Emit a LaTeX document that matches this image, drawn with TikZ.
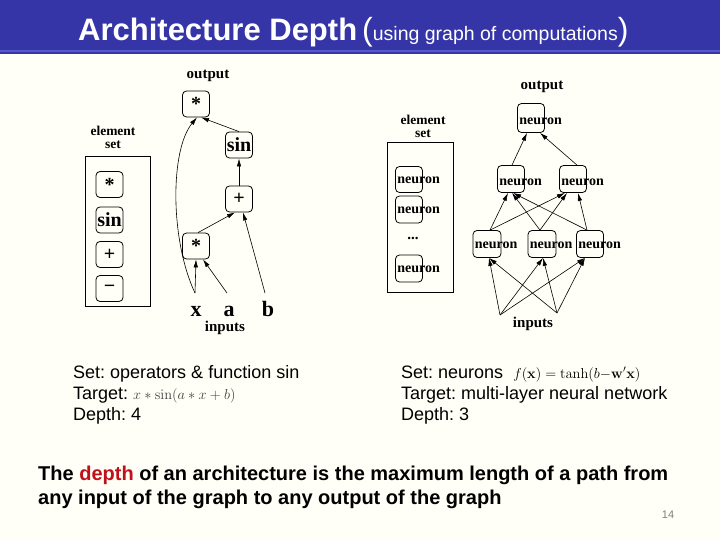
\documentclass[tikz,border=0pt]{standalone}
\usepackage[no-math]{fontspec}
\setmainfont{Liberation Sans}
\newfontfamily\dg{Liberation Serif}
\usetikzlibrary{arrows.meta}
\definecolor{titlebg}{HTML}{3535A8}
\definecolor{titleln}{HTML}{5858C8}
\definecolor{pagebg}{HTML}{FFFFF7}
\definecolor{depthred}{HTML}{C0101A}
\frenchspacing
\begin{document}
\begin{tikzpicture}[x=1pt,y=-1pt,
  gbox/.style={draw, rounded corners=4pt, minimum width=27pt, minimum height=26pt, inner sep=0pt, line width=0.8pt},
  nbox/.style={draw, rounded corners=4pt, minimum width=27pt, minimum height=27pt, inner sep=0pt, line width=0.8pt},
  ntext/.style={anchor=west, inner sep=0pt, font=\dg\bfseries\fontsize{14}{14}\selectfont},
  lab/.style={inner sep=0pt, font=\dg\bfseries\fontsize{15}{15}\selectfont},
  setlab/.style={inner sep=0pt, align=center, font=\dg\bfseries\fontsize{13.5}{13}\selectfont},
  inp/.style={inner sep=0pt, anchor=base, font=\dg\bfseries\fontsize{22}{22}\selectfont},
  sym/.style={font=\dg\bfseries\fontsize{20}{20}\selectfont},
  arr/.style={-{Latex[length=8pt,width=4.5pt]}, line width=0.6pt},
  body/.style={anchor=base west, inner sep=0pt, font=\fontsize{18}{21}\selectfont},
  concl/.style={anchor=base west, inner sep=0pt, font=\bfseries\fontsize{20}{24}\selectfont}]
\useasboundingbox (0,0) rectangle (720,540);
\fill[pagebg] (0,0) rectangle (720,540);
% title bar
\fill[titlebg] (0,0) rectangle (720,50);
\fill[titleln] (0,50) rectangle (720,52);
\fill[titlebg] (0,52) rectangle (720,54);
\node[anchor=base west, inner sep=0pt, text=white, font=\bfseries\fontsize{31}{31}\selectfont] (title) at (78,41) {Architecture Depth};
\node[anchor=base west, inner sep=0pt, text=white] (subtitle) at (362,41) {{\fontsize{32}{32}\selectfont(}{\fontsize{19.5}{19.5}\selectfont using graph of computations}{\fontsize{32}{32}\selectfont)}};

% ---------- left: element set ----------
\node[setlab] (lel) at (113,137) {element\\set};
\draw[line width=0.8pt] (85,156) rectangle (150,306);
\node[gbox] (e1) at (109.5,184.5) {};
\node[sym] at (e1) {*};
\node[gbox] (e2) at (109.5,220) {};
\node[sym] at (e2) {sin};
\node[gbox] (e3) at (109.5,254.5) {};
\node[sym] at (e3) {+};
\node[gbox] (e4) at (109.5,288.5) {};
\node[sym] at (e4) {\char"2212};

% ---------- left: graph ----------
\node[lab] (lout) at (208,76) {output};
\node[gbox] (top) at (196,104) {};
\node[sym] at (top) {*};
\node[gbox] (sinn) at (239,145) {};
\node[sym] at (sinn) {sin};
\node[gbox] (plus) at (239,199) {};
\node[sym] at (plus) {+};
\node[gbox] (mul) at (196,246) {};
\node[sym] at (mul) {*};
\node[inp] (x) at (196,316) {x};
\node[inp] (a) at (229,316) {a};
\node[inp] (b) at (268,316) {b};
\node[lab] (linp) at (225,328) {inputs};
\coordinate (xs) at (195,293);
\coordinate (as) at (227,293);
\coordinate (bs) at (265,293);
\draw[arr] (xs) -- (mul.south);
\draw[arr] (as) -- ([xshift=7pt]mul.south);
\draw[arr] (bs) -- ([xshift=4pt]plus.south);
\draw[arr] ([xshift=2pt]mul.north) -- ([xshift=-4pt]plus.south);
\draw[arr] (plus) -- (sinn);
\draw[arr] (sinn.north) -- ([xshift=5pt]top.south);
\draw[arr] (xs) .. controls (170,240) and (170,150) .. ([xshift=1pt]top.south);

% ---------- right: element set ----------
\node[setlab] (rel) at (423,126) {element\\set};
\draw[line width=0.8pt] (387,142) rectangle (453,292);
\node[nbox, minimum height=26pt] (n1) at (409,179.5) {};
\node[ntext] at ([xshift=2pt,yshift=-1pt]n1.west) {neuron};
\node[nbox, minimum height=27pt] (n2) at (409,209.5) {};
\node[ntext] at ([xshift=2pt,yshift=-1pt]n2.west) {neuron};
\node[lab] (dots) at (413,238) {...};
\node[nbox] (n3) at (409,268.5) {};
\node[ntext] at ([xshift=2pt,yshift=-1pt]n3.west) {neuron};

% ---------- right: network ----------
\node[lab] (rout) at (542,87) {output};
\node[nbox, minimum height=29pt] (t) at (531,118) {};
\node[ntext] at ([xshift=2pt,yshift=-3pt]t.west) {neuron};
\node[nbox] (ml) at (511,179) {};
\node[ntext] at ([xshift=2pt,yshift=-3pt]ml.west) {neuron};
\node[nbox] (mr) at (573,179) {};
\node[ntext] at ([xshift=2pt,yshift=-3pt]mr.west) {neuron};
\node[nbox, minimum width=28pt] (bl) at (487,244) {};
\node[ntext] at ([xshift=2pt,yshift=-1pt]bl.west) {neuron};
\node[nbox, minimum width=28pt] (bm) at (542,244) {};
\node[ntext] at ([xshift=2pt,yshift=-1pt]bm.west) {neuron};
\node[nbox] (br) at (590,244) {};
\node[ntext] at ([xshift=2pt,yshift=-1pt]br.west) {neuron};
\node[lab] (rinp) at (533,324) {inputs};
\coordinate (i1) at (500,315);
\coordinate (i2) at (557,313);
\foreach \s in {i1,i2}{
  \draw[arr] (\s) -- ([xshift=2pt]bl.south);
  \draw[arr] (\s) -- ([xshift=1pt]bm.south);
  \draw[arr] (\s) -- ([xshift=-5pt]br.south);
}
\draw[arr] ([xshift=3pt]bl.north) -- ([xshift=-3pt]ml.south);
\draw[arr] ([xshift=3pt]bl.north) -- ([xshift=-8pt]mr.south);
\draw[arr] ([xshift=-2pt]bm.north) -- ([xshift=1pt]ml.south);
\draw[arr] ([xshift=-2pt]bm.north) -- ([xshift=-6pt]mr.south);
\draw[arr] ([xshift=-3pt]br.north) -- ([xshift=2pt]ml.south);
\draw[arr] ([xshift=-3pt]br.north) -- ([xshift=5pt]mr.south);
\draw[arr] ([xshift=1pt]ml.north) -- ([xshift=-4pt]t.south);
\draw[arr] ([xshift=4pt]mr.north) -- ([xshift=9pt]t.south);

% ---------- captions ----------
\node[body] (l1) at (73,378) {Set: operators \& function sin};
\node[body] (l2) at (73,399) {Target: {\fontsize{14}{14}\selectfont\color{black!75}$x*\sin(a*x+b)$}};
\node[body] (l3) at (73,420) {Depth: 4};
\node[body] (r1) at (401,378) {Set: neurons\ \ {\fontsize{14}{14}\selectfont$f(\mathbf{x})=\tanh(b{-}\mathbf{w}'\mathbf{x})$}};
\node[body] (r2) at (401,399) {Target: multi-layer neural network};
\node[body] (r3) at (401,420) {Depth: 3};

\node[concl] (c1) at (38,480) {The \textcolor{depthred}{depth} of an architecture is the maximum length of a path from};
\node[concl] (c2) at (38,504) {any input of the graph to any output of the graph};
\node[inner sep=0pt, text=black!50, font=\fontsize{11}{11}\selectfont] (pg) at (668,515) {14};
\end{tikzpicture}
\end{document}
